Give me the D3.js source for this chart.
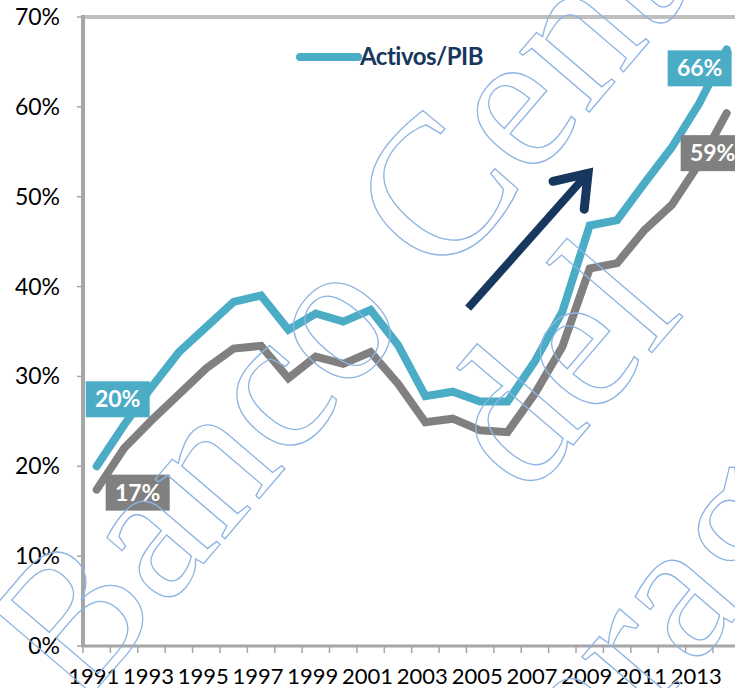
<!DOCTYPE html>
<html><head><meta charset="utf-8">
<script src="https://cdn.jsdelivr.net/npm/d3@7/dist/d3.min.js"></script>
<style>body{margin:0;background:#fff}svg{display:block}</style>
</head><body><svg id="c" width="735" height="688"></svg>
<script>
const years = [1991,1992,1993,1994,1995,1996,1997,1998,1999,2000,2001,2002,2003,2004,2005,2006,2007,2008,2009,2010,2011,2012,2013,2014];
const activosPIB = [20.0,24.6,28.8,32.7,35.5,38.3,39.0,35.2,37.0,36.1,37.4,33.5,27.8,28.3,27.2,27.2,31.7,37.2,46.8,47.4,51.5,55.5,60.4,66.4];
const serie2 = [17.4,22.0,25.1,28.0,30.9,33.1,33.4,29.8,32.2,31.4,32.7,29.2,24.9,25.3,24.0,23.8,28.1,33.3,42.0,42.6,46.3,49.1,53.7,59.3];
const yTicks = [0,10,20,30,40,50,60,70];
const xLabelYears = [1991,1993,1995,1997,1999,2001,2003,2005,2007,2009,2011,2013];
const legendLabel = "Activos/PIB";
const endLabels = [
  {text:"20%", series:"a", year:1991},
  {text:"17%", series:"b", year:1991},
  {text:"66%", series:"a", year:2014},
  {text:"59%", series:"b", year:2014}
];
const arrowFrom = {year:2004.56, value:37.6};
const arrowTo = {year:2008.94, value:52.6};
const watermarkLines = ["Banco Central","del","Paraguay"];

const TEAL="#4bacc6", GREY="#808080", NAVY="#17375e", AXIS="#a6a6a6";
const svg = d3.select("#c");
const L=83, T=17, B=646, step=27.39;
const x = d3.scaleBand().domain(years).range([L, L+step*years.length]).padding(0);
const xc = d3.scaleLinear().domain([years[0]-0.5, years[0]+0.5]).range([L, L+step]);
const y = d3.scaleLinear().domain([0,70]).range([B,T]);

// plot frame (top border)
svg.append("line").attr("x1",L-1).attr("x2",735).attr("y1",T).attr("y2",T)
  .attr("stroke","#bfbfbf").attr("stroke-width",4);
// y axis
svg.append("line").attr("x1",L).attr("x2",L).attr("y1",T-2).attr("y2",B)
  .attr("stroke",AXIS).attr("stroke-width",4);
const yg = svg.append("g");
yg.selectAll("line").data(yTicks).join("line")
  .attr("x1",L-6).attr("x2",L).attr("y1",d=>y(d)).attr("y2",d=>y(d))
  .attr("stroke",AXIS).attr("stroke-width",1.5);
yg.selectAll("text").data(yTicks).join("text")
  .attr("x",60).attr("y",d=>y(d)+8).attr("text-anchor","end")
  .attr("font-family","Lato, sans-serif").attr("font-size",23).attr("fill","#000")
  .text(d=>d+"%");
// x axis
svg.append("line").attr("x1",L-2).attr("x2",735).attr("y1",B).attr("y2",B)
  .attr("stroke",AXIS).attr("stroke-width",3);
const xg = svg.append("g");
xg.selectAll("line").data(years.concat([years[years.length-1]+1])).join("line")
  .attr("x1",(d,i)=>L+i*step).attr("x2",(d,i)=>L+i*step).attr("y1",B).attr("y2",B+7)
  .attr("stroke",AXIS).attr("stroke-width",1.5);
xg.selectAll("text").data(xLabelYears).join("text")
  .attr("x",d=>x(d)+x.bandwidth()/2-3).attr("y",684).attr("text-anchor","middle")
  .attr("font-family","Lato, sans-serif").attr("font-size",22).attr("fill","#000")
  .text(d=>d);

// lines
const line = d3.line().x((d,i)=>x(years[i])+x.bandwidth()/2).y(d=>y(d));
svg.append("path").datum(serie2).attr("d",line).attr("fill","none")
  .attr("stroke",GREY).attr("stroke-width",8).attr("stroke-linecap","round").attr("stroke-linejoin","miter");
svg.append("path").datum(activosPIB).attr("d",line).attr("fill","none")
  .attr("stroke",TEAL).attr("stroke-width",8).attr("stroke-linecap","round").attr("stroke-linejoin","miter");

// end labels
const offsets = {"20%":[21,-67],"17%":[41,3],"66%":[-27,19],"59%":[-14,40]};
endLabels.forEach(l=>{
  const vals = l.series==="a"?activosPIB:serie2;
  const i = years.indexOf(l.year);
  const cx = x(l.year)+x.bandwidth()/2+offsets[l.text][0];
  const cy = y(vals[i])+offsets[l.text][1];
  const col = l.series==="a"?TEAL:GREY;
  svg.append("rect").attr("x",cx-32).attr("y",cy-18).attr("width",64).attr("height",36).attr("fill",col);
  svg.append("text").attr("x",cx).attr("y",cy+8).attr("text-anchor","middle")
    .attr("font-family","Lato, sans-serif").attr("font-weight","bold").attr("font-size",23)
    .attr("fill","#fff").text(l.text);
});

// legend
svg.append("line").attr("x1",300).attr("x2",358).attr("y1",57).attr("y2",57)
  .attr("stroke",TEAL).attr("stroke-width",8).attr("stroke-linecap","round");
svg.append("text").attr("x",360).attr("y",65).attr("font-family","Lato, sans-serif")
  .attr("font-weight","bold").attr("font-size",24).attr("fill",NAVY).attr("letter-spacing",-0.5)
  .text(legendLabel);

// arrow
const ax1=xc(arrowFrom.year), ay1=y(arrowFrom.value), ax2=xc(arrowTo.year), ay2=y(arrowTo.value);
svg.append("line").attr("x1",ax1).attr("y1",ay1).attr("x2",ax2-3).attr("y2",ay2+3)
  .attr("stroke",NAVY).attr("stroke-width",8);
const ang = Math.atan2(ay2-ay1, ax2-ax1);
const hl = 36, ha = 0.62;
const p1=[ax2-hl*Math.cos(ang-ha), ay2-hl*Math.sin(ang-ha)];
const p2=[ax2-hl*Math.cos(ang+ha), ay2-hl*Math.sin(ang+ha)];
svg.append("path").attr("d",`M${p1[0]},${p1[1]}L${ax2},${ay2}L${p2[0]},${p2[1]}`)
  .attr("fill","none").attr("stroke",NAVY).attr("stroke-width",9)
  .attr("stroke-linecap","round").attr("stroke-linejoin","miter");

// watermark
const wmPos = [[0,0],[0,204],[-38,440]];
const wm = svg.append("g").attr("transform","translate(451,274) rotate(-49.5)");
wm.selectAll("text").data(watermarkLines).join("text")
  .attr("x",(d,i)=>wmPos[i][0]).attr("y",(d,i)=>wmPos[i][1]).attr("text-anchor","middle")
  .attr("font-family","Liberation Serif, serif").attr("font-size",200)
  .attr("fill","none").attr("stroke","#8db4e2").attr("stroke-width",1.3)
  .text(d=>d);
</script></body></html>
